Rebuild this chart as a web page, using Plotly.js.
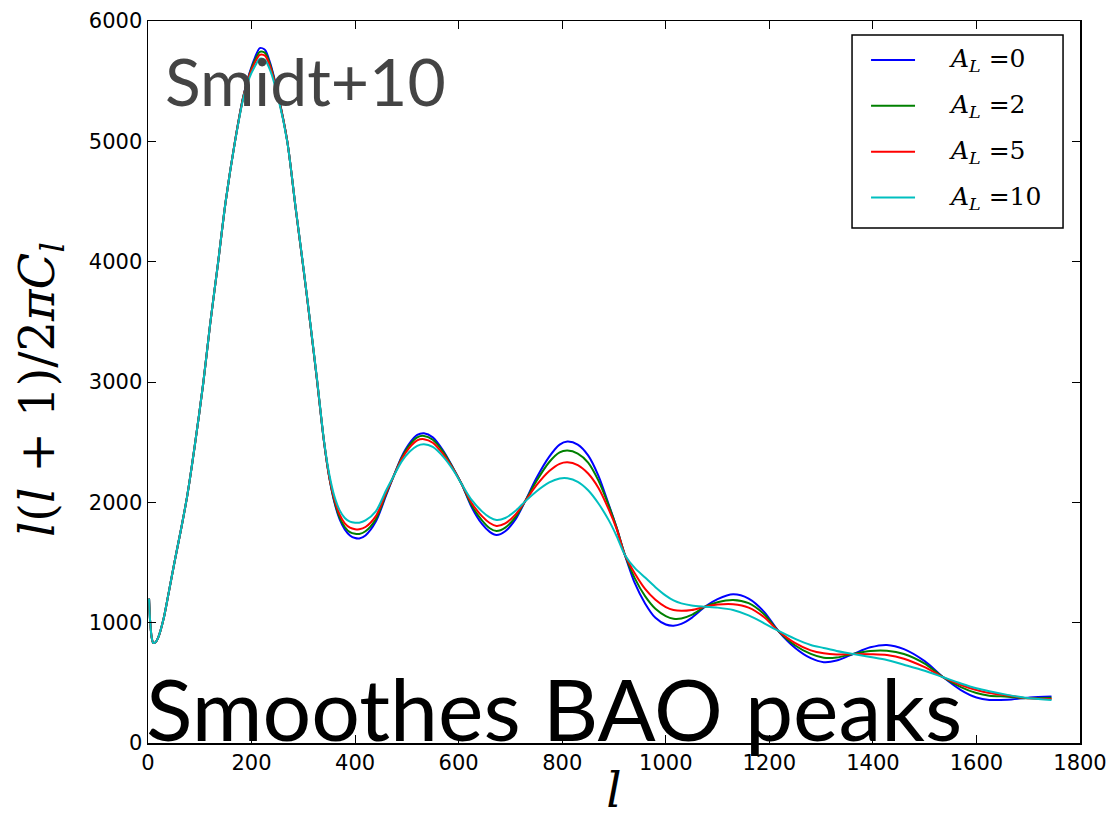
<!DOCTYPE html>
<html>
<head>
<meta charset="utf-8">
<script src="https://cdn.plot.ly/plotly-3.0.1.min.js"></script>
<style>
  html, body { margin: 0; padding: 0; background: #fff; }
  #chart { width: 1113px; height: 818px; }
</style>
</head>
<body>
<div id="chart"></div>
<script>
// Multipole grid shared by all spectra
const ell = [2,4,7,10,14,20,30,40,52,64,76,90,107,120,135,150,168,184,196,206,216,226,236,252,269,285,300,313,326,340,350,360,370,380,390,400,408,420,440,460,474,490,505,520,533,550,570,590,606,625,645,660,673,690,710,728,750,775,795,810,830,850,870,890,905,921,940,960,980,1000,1015,1030,1050,1076,1100,1130,1160,1190,1217,1250,1280,1305,1330,1362,1395,1427,1460,1500,1536,1570,1600,1625,1660,1703,1745];

// l(l+1)C_l/2pi for each lensing amplitude A_L
const dlA0 = [1200,1020,880,832,835,880,1030,1250,1521,1780,2060,2460,3000,3480,3980,4500,5000,5373,5567,5690,5775,5760,5650,5373,5000,4450,3950,3500,3030,2500,2210,2000,1860,1775,1725,1703,1700,1725,1840,2060,2214,2380,2490,2560,2574,2540,2430,2280,2150,1960,1820,1755,1729,1760,1860,2006,2200,2380,2480,2505,2480,2390,2220,1980,1790,1563,1330,1160,1040,985,975,990,1040,1133,1195,1236,1200,1090,933,790,705,672,685,740,795,815,780,680,546,440,378,358,360,378,386];
const dlA2 = [1200,1020,880,832,835,880,1030,1250,1521,1780,2060,2460,3000,3480,3980,4500,5000,5370,5560,5670,5744,5735,5635,5368,5000,4450,3950,3500,3030,2502,2210,2010,1875,1795,1752,1738,1737,1760,1860,2070,2214,2370,2475,2540,2552,2520,2420,2278,2150,1975,1850,1785,1762,1790,1880,2006,2175,2335,2415,2430,2405,2330,2180,1970,1790,1563,1370,1220,1115,1055,1033,1035,1065,1133,1170,1189,1162,1070,933,810,740,708,710,740,765,767,740,660,546,465,415,393,385,371,377];
const dlA5 = [1200,1020,880,832,835,880,1030,1250,1521,1780,2060,2460,3000,3480,3980,4500,5000,5365,5550,5650,5719,5712,5620,5362,5000,4452,3952,3502,3032,2505,2215,2025,1900,1825,1790,1777,1776,1795,1885,2080,2214,2360,2455,2515,2525,2495,2400,2272,2150,1995,1885,1828,1804,1825,1900,2006,2140,2260,2320,2333,2310,2240,2120,1940,1780,1563,1410,1280,1190,1130,1105,1098,1105,1133,1150,1153,1125,1045,933,830,770,745,736,740,738,731,700,630,546,482,440,415,395,371,366];
const dlA10 = [1200,1020,880,832,835,880,1030,1250,1521,1780,2060,2460,3000,3480,3980,4500,4995,5355,5530,5620,5686,5675,5590,5350,4995,4455,3958,3508,3040,2510,2235,2050,1935,1870,1840,1831,1831,1850,1925,2100,2214,2340,2420,2470,2483,2460,2380,2265,2150,2020,1925,1875,1854,1870,1930,2006,2090,2165,2198,2200,2170,2100,1990,1850,1720,1563,1455,1375,1295,1225,1185,1160,1143,1133,1125,1105,1060,995,933,865,815,790,765,740,715,690,650,600,546,495,455,430,400,371,357];

const seriesNames = ['<i>A</i><sub><i>L</i></sub> =0', '<i>A</i><sub><i>L</i></sub> =2', '<i>A</i><sub><i>L</i></sub> =5', '<i>A</i><sub><i>L</i></sub> =10'];
const seriesValues = [dlA0, dlA2, dlA5, dlA10];
const seriesColors = ['#0000ff', '#008000', '#ff0000', '#00bfbf'];

const xTicks = [0,200,400,600,800,1000,1200,1400,1600,1800];
const yTicks = [0,1000,2000,3000,4000,5000,6000];

const traces = seriesValues.map((vals, i) => ({
  type: 'scatter',
  mode: 'lines',
  x: ell,
  y: vals,
  name: seriesNames[i],
  line: { color: seriesColors[i], width: 2, shape: 'spline', smoothing: 0.8 },
  hoverinfo: 'skip'
}));

// Legend box drawn in paper coordinates, matplotlib style
const legendBox = { x0: 0.7554, x1: 0.9818, y0: 0.7133, y1: 0.9806 };
const legendRows = [0.946, 0.8825, 0.819, 0.7555];
const legendLine = { x0: 0.7758, x1: 0.8230 };
const legendTextX = 0.8570;

const shapes = [{
  type: 'rect', xref: 'paper', yref: 'paper',
  x0: legendBox.x0, x1: legendBox.x1, y0: legendBox.y0, y1: legendBox.y1,
  line: { color: '#000', width: 1.5 }, fillcolor: '#fff', layer: 'above'
}];
const legendLabels = [];
seriesNames.forEach((name, i) => {
  shapes.push({
    type: 'line', xref: 'paper', yref: 'paper',
    x0: legendLine.x0, x1: legendLine.x1, y0: legendRows[i], y1: legendRows[i],
    line: { color: seriesColors[i], width: 2 }, layer: 'above'
  });
  legendLabels.push({
    xref: 'paper', yref: 'paper', x: legendTextX, y: legendRows[i],
    xanchor: 'left', yanchor: 'middle', text: name, showarrow: false,
    font: { family: 'DejaVu Serif', size: 25, color: '#000' }
  });
});

const axisCommon = {
  showline: true,
  linecolor: '#000',
  linewidth: 1.5,
  mirror: 'ticks',
  ticks: 'inside',
  ticklen: 8,
  tickwidth: 1,
  tickcolor: '#000',
  showgrid: false,
  zeroline: false,
  tickfont: { family: 'DejaVu Sans', size: 21, color: '#000' }
};

const layout = {
  width: 1113,
  height: 818,
  paper_bgcolor: '#fff',
  plot_bgcolor: '#fff',
  margin: { l: 148, r: 33, t: 21, b: 75 },
  showlegend: false,
  xaxis: Object.assign({}, axisCommon, {
    range: [0, 1800],
    tickvals: xTicks,
    ticktext: xTicks.map(String),
    title: { text: '<i>l</i>', font: { family: 'DejaVu Serif', size: 48, color: '#000' }, standoff: 4 }
  }),
  yaxis: Object.assign({}, axisCommon, {
    range: [0, 6000],
    tickvals: yTicks,
    ticktext: yTicks.map(String)
  }),
  shapes: shapes,
  annotations: [
    {
      // y-axis label, rotated
      xref: 'paper', yref: 'paper', x: -0.116, y: 0.49, xanchor: 'center', yanchor: 'middle',
      textangle: -90, showarrow: false,
      text: '<i>l</i>(<i>l</i> + 1)/2<i>π</i><i>C</i><sub><i>l</i></sub>',
      font: { family: 'DejaVu Serif', size: 48, color: '#000' }
    },
    {
      xref: 'paper', yref: 'paper', x: 0.016, y: 0.975, xanchor: 'left', yanchor: 'top',
      text: 'Smidt+10', showarrow: false,
      font: { family: 'Lato', size: 66, color: '#444444' }
    },
    {
      xref: 'paper', yref: 'paper', x: -0.004, y: -0.025, xanchor: 'left', yanchor: 'bottom',
      text: 'Smoothes BAO peaks', showarrow: false,
      font: { family: 'Lato', size: 86, color: '#000' }
    }
  ].concat(legendLabels)
};

Plotly.newPlot('chart', traces, layout, { staticPlot: true, displayModeBar: false });
</script>
</body>
</html>
